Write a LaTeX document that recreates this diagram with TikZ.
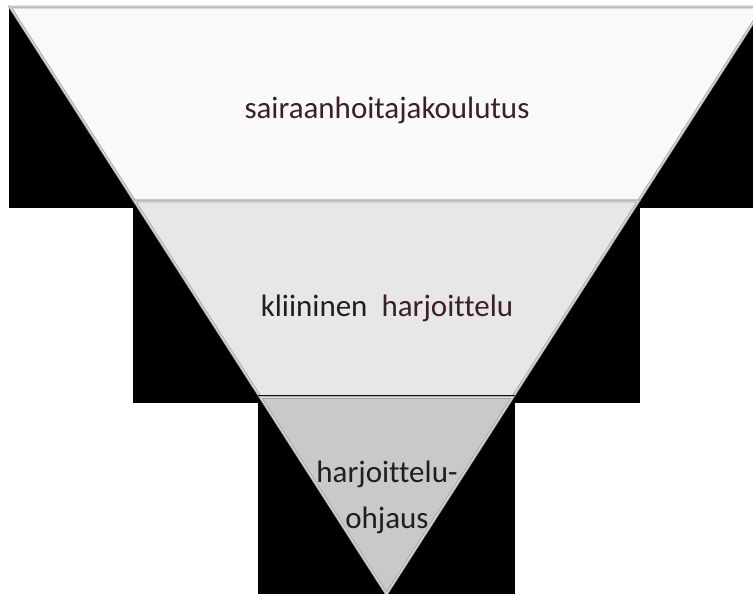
\documentclass[tikz,border=0pt]{standalone}
\usepackage{fontspec}
\setmainfont{Carlito}[RawFeature=-liga]
\usetikzlibrary{calc}
\definecolor{bandtop}{HTML}{F9F9F9}
\definecolor{bandmid}{HTML}{E7E7E7}
\definecolor{bandlow}{HTML}{C9C9C9}
\definecolor{wine}{HTML}{3B1F2B}
\definecolor{ink}{HTML}{1E1E1E}
\tikzset{
  band/.style={
    fill=#1, draw=gray!70, double=gray!25, double distance=1pt,
    line width=0.9pt, line join=miter
  },
  band/.default=bandtop,
  backrect/.style={fill=black, draw=none},
  bandtext/.style={font=\fontsize{31}{46}\selectfont, inner sep=0pt, anchor=base, align=center}
}
\begin{document}
\begin{tikzpicture}[x=1pt, y=-1pt]
\useasboundingbox (0,0) rectangle (753,594);
\clip (0,0) rectangle (753,594);
% funnel corners
\coordinate (tl) at (10,7);
\coordinate (tr) at (763,7);
\coordinate (apex) at (386.5,594);
\coordinate (ml) at ($(tl)!0.3305!(apex)$);
\coordinate (mr) at ($(tr)!0.3305!(apex)$);
\coordinate (ll) at ($(tl)!0.665!(apex)$);
\coordinate (lr) at ($(tr)!0.665!(apex)$);
% top band
\fill[backrect] (9,7) rectangle (753,208);
\draw[band=bandtop] (tl) -- (tr) -- (mr) -- (ml) -- cycle;
% middle band
\fill[backrect] (133,200) rectangle (640,403);
\draw[band=bandmid] (ml) -- (mr) -- (lr) -- (ll) -- cycle;
% bottom band
\fill[backrect] (258,395) rectangle (515,594);
\draw[band=bandlow] (ll) -- (lr) -- (apex) -- cycle;
% labels
\node[bandtext, text=wine] (edu) at (387,118) {sairaanhoitajakoulutus};
\node[bandtext] (clin) at (387,316) {\textcolor{ink}{kliininen}\ \ \textcolor{wine}{harjoittelu}};
\node[bandtext, text=ink] (guid) at (387,528) {harjoittelu-\\ohjaus};
\end{tikzpicture}
\end{document}
